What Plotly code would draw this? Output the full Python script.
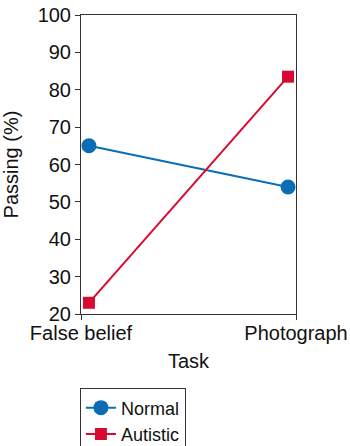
import plotly.graph_objects as go

tasks = ["False belief", "Photograph"]
normal = [65, 54]
autistic = [23, 83.5]
y_ticks = [20, 30, 40, 50, 60, 70, 80, 90, 100]

xpos = [0, 1]
FONT = "Liberation Sans, Arial, sans-serif"

fig = go.Figure()
fig.add_trace(go.Scatter(x=xpos, y=normal, name="Normal", mode="lines+markers",
                         line=dict(color="#0b6db5", width=2),
                         marker=dict(symbol="circle", size=15, color="#0b6db5")))
fig.add_trace(go.Scatter(x=xpos, y=autistic, name="Autistic", mode="lines+markers",
                         line=dict(color="#d90a32", width=2),
                         marker=dict(symbol="square", size=12, color="#d90a32")))

lo, hi = -0.04, 1.04
fig.update_layout(
    width=350, height=446,
    margin=dict(l=81, r=54, t=15, b=132, autoexpand=False),
    paper_bgcolor="white", plot_bgcolor="white",
    font=dict(family=FONT, size=20, color="#111"),
    showlegend=True,
    legend=dict(x=-0.005, y=-0.249, xanchor="left", yanchor="top",
                bordercolor="#333", borderwidth=1, bgcolor="white",
                font=dict(size=18), tracegroupgap=0, itemsizing="trace",
                itemwidth=30),
    xaxis=dict(range=[lo, hi], tickvals=[lo, hi], ticktext=tasks,
               tickfont=dict(size=20), automargin=False, ticklabelstandoff=-4,
               showline=True, linecolor="#333", linewidth=1, mirror=True,
               ticks="outside", ticklen=5, tickcolor="#333", showgrid=False,
               zeroline=False, title=dict(text="Task", standoff=10, font=dict(size=20))),
    yaxis=dict(range=[20, 100], tickvals=y_ticks, tickfont=dict(size=20), automargin=False,
               showline=True, linecolor="#333", linewidth=1, mirror=True,
               ticks="outside", ticklen=5, tickcolor="#333", showgrid=False,
               zeroline=False, title=dict(text="Passing (%)", standoff=15, font=dict(size=20))),
)
fig.write_html("out.html", config={"displayModeBar": False},
               post_script="document.body.style.margin='0';document.body.style.overflow='hidden';")
